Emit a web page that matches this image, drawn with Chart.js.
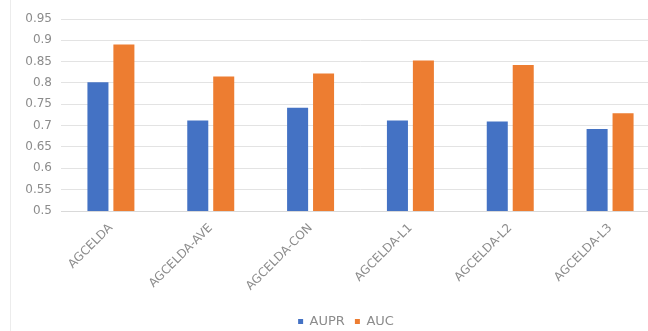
<!DOCTYPE html>
<html>
<head>
<meta charset="utf-8">
<script src="https://cdn.jsdelivr.net/npm/chart.js@4/dist/chart.umd.min.js"></script>
<style>
  html, body { margin: 0; padding: 0; background: #ffffff; overflow: hidden; }
  #wrap { position: relative; width: 692px; height: 338px; }
  #edge { position: absolute; left: 10px; top: 0; width: 0; height: 338px; border-left: 1px solid #ececec; }
</style>
</head>
<body>
<div id="wrap">
  <canvas id="c" width="692" height="338"></canvas>
  <div id="edge"></div>
</div>
<script>
const categories = ["AGCELDA", "AGCELDA-AVE", "AGCELDA-CON", "AGCELDA-L1", "AGCELDA-L2", "AGCELDA-L3"];
const auprValues = [0.802, 0.712, 0.742, 0.712, 0.710, 0.692];
const aucValues  = [0.890, 0.815, 0.822, 0.853, 0.842, 0.729];
const yTicks = [0.5, 0.55, 0.6, 0.65, 0.7, 0.75, 0.8, 0.85, 0.9, 0.95];

const font = "'DejaVu Sans', sans-serif";
const textColor = "#8c8c8c";

new Chart(document.getElementById("c"), {
  type: "bar",
  data: {
    labels: categories,
    datasets: [
      { label: "AUPR", data: auprValues, backgroundColor: "#4472C4", categoryPercentage: 0.52, barPercentage: 0.81 },
      { label: "AUC",  data: aucValues,  backgroundColor: "#ED7D31", categoryPercentage: 0.52, barPercentage: 0.81 }
    ]
  },
  options: {
    responsive: false,
    animation: false,
    layout: { padding: { top: 19, right: 0, left: 0, bottom: 0 } },
    plugins: {
      tooltip: { enabled: false },
      legend: {
        position: "bottom",
        labels: {
          font: { family: font, size: 13 },
          color: textColor,
          boxWidth: 5, boxHeight: 5,
          padding: 10
        }
      }
    },
    scales: {
      x: {
        grid: { display: false, drawTicks: false },
        border: { color: "#d9d9d9" },
        ticks: {
          font: { family: font, size: 12 },
          color: textColor,
          minRotation: 45, maxRotation: 45,
          padding: 10
        },
        afterFit: (s) => { s.height = 94; }
      },
      y: {
        min: 0.5, max: 0.95,
        afterBuildTicks: (s) => { s.ticks = yTicks.map(v => ({ value: v })); },
        grid: { color: "#e3e3e3", drawTicks: false },
        border: { display: false },
        ticks: {
          font: { family: font, size: 12 },
          color: textColor,
          padding: 9,
          callback: (v) => String(Math.round(v * 100) / 100)
        },
        afterFit: (s) => { s.width = 61; }
      },
      yRight: {
        type: "linear",
        position: "right",
        display: true,
        grid: { display: false, drawTicks: false },
        border: { display: false },
        ticks: { display: false },
        afterFit: (s) => { s.width = 32; }
      }
    }
  }
});
</script>
</body>
</html>
